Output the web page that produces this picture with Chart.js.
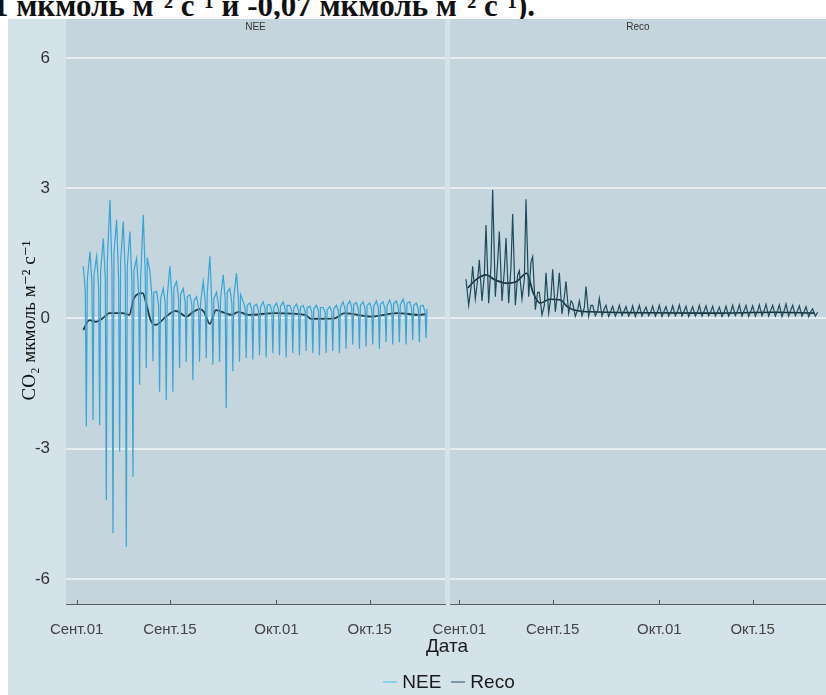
<!DOCTYPE html>
<html><head><meta charset="utf-8">
<script src="https://cdn.jsdelivr.net/npm/chart.js@4.4.0/dist/chart.umd.min.js"></script>
<style>
html,body{margin:0;padding:0;width:826px;height:695px;overflow:hidden;background:#fff;position:relative;}
#toptext{position:absolute;left:-7px;top:-12px;font:bold 31px "Liberation Serif",serif;line-height:36px;color:#111;white-space:nowrap;}
#bg{position:absolute;left:8px;top:19px;width:818px;height:676px;background:#d4e2ea;}
#cL{position:absolute;left:0;top:19px;}
#cR{position:absolute;left:402px;top:19px;}
#xtitle{position:absolute;left:347px;width:200px;top:635px;text-align:center;font:19px "Liberation Sans",Arial,sans-serif;color:#1a1a1a;}
#legend{position:absolute;left:247px;width:400px;top:671px;text-align:center;font:19px "Liberation Sans",Arial,sans-serif;color:#1a1a1a;white-space:nowrap;}
.sw{display:inline-block;width:14px;height:2px;vertical-align:middle;margin:0 5px 0 4px;position:relative;top:-1px;}
</style></head>
<body>
<div id="toptext">1 мкмоль м⁻² с⁻¹ и -0,07 мкмоль м⁻² с⁻¹).</div>
<div id="bg"></div>
<canvas id="cL" width="446" height="620"></canvas>
<canvas id="cR" width="424" height="620"></canvas>
<div id="xtitle">Дата</div>
<div id="legend"><span class="sw" style="background:#8fd0e6"></span>NEE<span class="sw" style="background:#7d98a4;margin-left:10px"></span>Reco</div>
<script>
// ---- data ----
const tickDays = [0, 14, 30, 44];
const tickLabels = ['Сент.01', 'Сент.15', 'Окт.01', 'Окт.15'];
const yTicks = [-6, -3, 0, 3, 6];
const panelLabels = ['NEE', 'Reco'];
const seriesLabels = ['NEE', 'Reco'];

// NEE (days since Sept 1): night peak, morning band level, daytime minimum, evening band level
const neeDays = [1,2,3,4,5,6,7,8,9,10,11,12,13,14,15,16,17,18,19,20,21,22,23,24,25,26,27,28,29,30,31,32,33,34,35,36,37,38,39,40,41,42,43,44,45,46,47,48,49,50,51,52];
const neeNight = [1.2,1.54,1.43,1.84,2.73,2.27,2.23,2.0,1.38,2.38,1.08,0.62,0.69,1.2,0.85,0.69,0.54,0.5,0.85,1.43,0.6,1.0,0.69,1.04,0.39,0.35,0.33,0.38,0.32,0.35,0.38,0.3,0.33,0.3,0.28,0.3,0.25,0.27,0.3,0.38,0.4,0.36,0.38,0.35,0.4,0.38,0.42,0.4,0.44,0.38,0.35,0.3];
const neeBandA = [0.6,0.8,0.7,0.9,1.1,0.9,1.0,0.8,0.6,1.0,0.5,0.3,0.35,0.5,0.45,0.35,0.3,0.25,0.4,0.3,0.3,0.45,0.35,0.4,0.22,0.2,0.18,0.22,0.18,0.2,0.22,0.17,0.18,0.16,0.15,0.17,0.14,0.15,0.17,0.22,0.24,0.21,0.22,0.2,0.24,0.22,0.26,0.24,0.27,0.22,0.2,0.16];
const neeDay = [-2.49,-2.34,-2.46,-4.19,-4.95,-3.07,-5.26,-3.65,-1.53,-1.15,-0.99,-1.69,-1.88,-1.69,-1.15,-1.0,-1.42,-1.0,-0.92,-1.07,-1.0,-2.07,-1.22,-1.0,-0.92,-0.95,-0.85,-0.9,-0.8,-0.85,-0.9,-0.8,-0.85,-0.75,-0.8,-0.85,-0.8,-0.75,-0.8,-0.7,-0.6,-0.7,-0.65,-0.6,-0.7,-0.55,-0.6,-0.55,-0.6,-0.5,-0.55,-0.45];
const neeBandB = [0.9,1.0,1.1,1.3,1.5,1.3,1.2,1.1,0.9,1.4,0.6,0.45,0.5,0.7,0.55,0.5,0.4,0.35,0.55,0.45,0.45,0.6,0.5,0.55,0.3,0.28,0.25,0.3,0.26,0.28,0.3,0.24,0.26,0.24,0.22,0.25,0.2,0.22,0.25,0.3,0.32,0.3,0.3,0.28,0.32,0.3,0.34,0.32,0.35,0.3,0.28,0.22];
const neeMeanDays = [1.0,1.9,2.9,3.9,4.9,6.9,7.9,8.6,9.9,10.5,11.1,11.9,13.4,14.9,16.5,17.5,18.5,19.1,20.0,20.9,21.8,23.3,24.3,25.8,29.8,34.3,35.2,38.7,40.2,44.2,48.1,51.6,52.4];
const neeMean = [-0.27,-0.04,-0.08,0,0.12,0.12,0.08,0.46,0.58,0.31,-0.04,-0.15,0.04,0.17,0.04,0.15,0.21,0.15,-0.13,0.19,0.15,0.08,0.15,0.08,0.12,0.08,-0.01,0,0.12,0.04,0.12,0.08,0.1];

// Reco: day number, daily high, daily low, secondary value
const recoDays = [1,2,3,4,5,6,7,8,9,10,11,12,13,14,15,16,17,18,19,20,21,22,23,24,25,26,27,28,29,30,31,32,33,34,35,36,37,38,39,40,41,42,43,44,45,46,47,48,49,50,51,52,53];
const recoHigh = [0.9,1.2,1.35,2.15,2.96,2.0,1.85,2.4,1.1,2.74,1.42,0.6,1.05,1.13,1.05,0.85,0.35,0.4,0.73,0.3,0.46,0.3,0.28,0.3,0.27,0.29,0.3,0.26,0.28,0.3,0.27,0.29,0.31,0.28,0.27,0.3,0.29,0.28,0.26,0.28,0.3,0.31,0.3,0.29,0.31,0.32,0.3,0.31,0.33,0.3,0.29,0.27,0.22];
const recoLow = [0.3,0.45,0.4,0.35,0.5,0.4,0.35,0.3,0.45,0.5,0.2,0.08,0.12,0.15,0.1,0.12,0.05,0.06,0.05,0.06,0.05,0.04,0.05,0.06,0.05,0.04,0.05,0.06,0.05,0.04,0.05,0.06,0.05,0.04,0.05,0.05,0.06,0.05,0.04,0.05,0.06,0.05,0.04,0.05,0.06,0.05,0.05,0.04,0.05,0.06,0.05,0.04,0.05];
const recoMid = [0.7,0.9,1.0,1.2,1.3,1.1,1.2,1.0,0.9,1.3,0.6,0.3,0.5,0.6,0.5,0.4,0.2,0.25,0.3,0.18,0.22,0.18,0.17,0.18,0.16,0.17,0.18,0.16,0.17,0.18,0.16,0.17,0.18,0.17,0.16,0.18,0.17,0.16,0.15,0.17,0.18,0.19,0.18,0.17,0.19,0.2,0.18,0.19,0.2,0.18,0.17,0.16,0.14];
const recoMeanDays = [1.26,2.5,4.0,5.3,7.1,8.6,10.1,11.1,12.1,13.6,15.2,16.2,17.2,19.7,27.3,37.4,47.5,53.3];
const recoMean = [0.7,0.89,1.0,0.89,0.81,0.85,1.04,0.58,0.35,0.44,0.42,0.27,0.19,0.15,0.13,0.12,0.14,0.12];

// ---- style ----
const PANEL = '#c5d5de';
const GRID = '#e7eef2';
const NEE_COLOR = '#33a5d6';
const RECO_COLOR = '#1c4b5c';
const MEAN_COLOR = '#2f3537';

function seq(days, arrays, offsets) {
  const out = [];
  days.forEach((d, i) => {
    arrays.forEach((arr, k) => out.push({x: d + offsets[k], y: arr[i]}));
  });
  return out;
}
function pts(xs, ys) { return xs.map((x, i) => ({x, y: ys[i]})); }

function noPad(s) { s.paddingLeft = 0; s.paddingRight = 0; s.paddingTop = 0; s.paddingBottom = 0; }

function panelPlugin(label) {
  return {
    id: 'panel',
    beforeDraw(chart) {
      const {ctx, chartArea: a} = chart;
      ctx.save();
      ctx.fillStyle = PANEL;
      ctx.fillRect(a.left, 0, a.right - a.left, a.bottom);
      ctx.fillStyle = '#333';
      ctx.font = '10px "Liberation Sans", Arial, sans-serif';
      ctx.textAlign = 'center';
      ctx.textBaseline = 'middle';
      ctx.fillText(label, (a.left + a.right) / 2, 8);
      ctx.restore();
    },
    afterDraw(chart) {
      const {ctx, chartArea: a} = chart;
      const xs = chart.scales.x;
      ctx.save();
      ctx.strokeStyle = '#555';
      ctx.lineWidth = 1;
      tickDays.forEach(v => {
        const px = Math.round(xs.getPixelForValue(v)) + 0.5;
        ctx.beginPath(); ctx.moveTo(px, a.bottom - 4); ctx.lineTo(px, a.bottom); ctx.stroke();
      });
      ctx.restore();
    }
  };
}

function makeChart(id, label, datasets, left, xmin, xmax) {
  return new Chart(document.getElementById(id), {
    type: 'line',
    data: {datasets},
    options: {
      responsive: false, animation: false, devicePixelRatio: 1,
      layout: {padding: {left: left ? 0 : 48, right: left ? 1 : 0, top: 18, bottom: 0}},
      plugins: {legend: {display: false}, tooltip: {enabled: false}},
      elements: {point: {radius: 0}, line: {tension: 0}},
      scales: {
        x: {
          type: 'linear', min: xmin, max: xmax,
          afterFit: s => { s.height = 35; noPad(s); },
          afterBuildTicks: s => { s.ticks = tickDays.map(v => ({value: v})); },
          grid: {display: false, drawTicks: false},
          border: {display: true, color: '#5c5f60', width: 1},
          ticks: {
            padding: 17, color: '#444', autoSkip: false, maxRotation: 0,
            font: {family: '"Liberation Sans", Arial, sans-serif', size: 15},
            callback: v => tickLabels[tickDays.indexOf(v)] ?? ''
          }
        },
        y: {
          type: 'linear', min: -6.58, max: 6.48,
          afterFit: s => { s.width = left ? 66 : 0; noPad(s); },
          afterBuildTicks: s => { s.ticks = yTicks.map(v => ({value: v})); },
          grid: {color: GRID, lineWidth: 2, drawTicks: false},
          border: {display: false},
          ticks: {
            display: left, padding: 16, color: '#333',
            font: {family: '"Liberation Sans", Arial, sans-serif', size: 17}
          },
          title: {
            display: left, text: 'CO₂ мкмоль м⁻² с⁻¹', color: '#111',
            font: {family: '"Liberation Serif", "DejaVu Serif", serif', size: 19},
            padding: {top: 19, bottom: 0}
          }
        }
      }
    },
    plugins: [panelPlugin(label)]
  });
}

makeChart('cL', panelLabels[0], [
  {label: seriesLabels[0], data: seq(neeDays, [neeNight, neeBandA, neeDay, neeBandB], [0, 0.3, 0.45, 0.6]), borderColor: NEE_COLOR, borderWidth: 1.2},
  {label: 'mean', data: pts(neeMeanDays, neeMean), borderColor: MEAN_COLOR, borderWidth: 1.8, cubicInterpolationMode: 'monotone', tension: 0.4}
], true, -1.6, 55.3);

makeChart('cR', panelLabels[1], [
  {label: seriesLabels[1], data: seq(recoDays, [recoHigh, recoLow, recoMid], [0, 0.4, 0.75]), borderColor: RECO_COLOR, borderWidth: 1.2},
  {label: 'mean', data: pts(recoMeanDays, recoMean), borderColor: '#1a2c33', borderWidth: 1.6, cubicInterpolationMode: 'monotone', tension: 0.4}
], false, -1.4, 55.0);
</script>
</body></html>
